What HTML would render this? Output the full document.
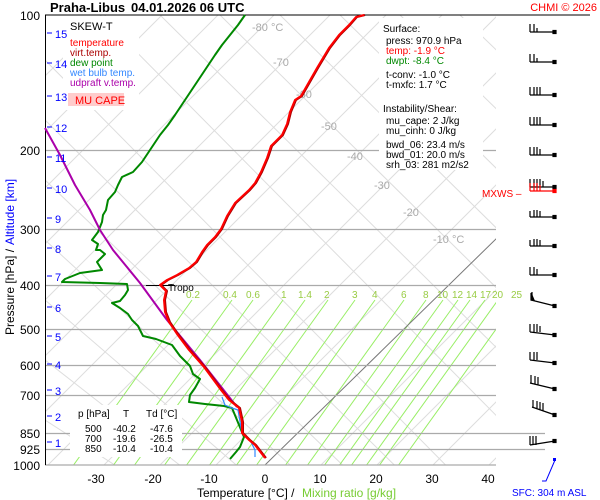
<!DOCTYPE html>
<html><head><style>
body{margin:0;background:#fff;}
svg{display:block;font-family:"Liberation Sans",sans-serif;}
</style></head><body>
<svg width="600" height="500" viewBox="0 0 600 500" xmlns="http://www.w3.org/2000/svg">
<rect width="600" height="500" fill="#fff"/>
<defs><clipPath id="pa"><rect x="45" y="15" width="451" height="450"/></clipPath></defs>
<g clip-path="url(#pa)" stroke-width="1" fill="none">
<g stroke="#ddd">
<path d="M-120 465 L345 0 M-64 465 L401 0 M-8 465 L457 0 M48 465 L513 0 M104 465 L569 0 M160 465 L625 0 M216 465 L681 0 M321 465 L786 0 M377 465 L842 0 M433 465 L898 0 M489 465 L954 0 M-176 465 L289 0 M-232 465 L233 0 M-288 465 L177 0 M-344 465 L121 0"/>
</g>
<g stroke="#ddd">
<path d="M45 60 L500 520 M45 120 L450 520 M45 180 L400 520 M45 240 L350 520 M45 300 L300 520 M45 360 L250 520 M45 420 L200 520 M100 15 L560 480 M160 15 L600 450 M220 15 L600 390 M280 15 L600 330 M340 15 L600 270 M400 15 L600 210 M460 15 L600 150"/>
</g>
<g stroke="#9e6">
<path d="M192 300 L70 470 M232 300 L110 470 M253 300 L131 470 M283 300 L161 470 M305 300 L183 470 M328 300 L206 470 M355 300 L233 470 M375 300 L253 470 M404 300 L282 470 M426 300 L304 470 M443 300 L321 470 M458 300 L336 470 M470 300 L348 470 M485 300 L363 470 M498 300 L376 470 M517 300 L395 470"/>
</g>
<path d="M265 465 L500 235" stroke="#777"/>
</g>
<g stroke="#aaa" stroke-width="1.2">
<path d="M45 150.5H496 M45 229.5H496 M45 285.5H496 M45 329.5H496 M45 365.5H496 M45 395.5H496 M45 433.5H545 M45 449.5H545 M45 465H496"/>
</g>
<path d="M45 15H590" stroke="#000"/>
<path d="M45.5 15V465" stroke="#000"/>
<g fill="#aaa" font-size="11">
<text x="252" y="31">-80 °C</text><text x="273" y="66">-70</text><text x="296" y="98">-60</text>
<text x="321" y="130">-50</text><text x="347" y="160">-40</text><text x="374" y="189">-30</text>
<text x="403" y="216">-20</text><text x="433" y="243">-10 °C</text>
</g>
<g fill="#9c4" font-size="10">
<text x="186" y="298">0.2</text><text x="223" y="298">0.4</text><text x="246" y="298">0.6</text><text x="281" y="298">1</text><text x="298" y="298">1.4</text><text x="324" y="298">2</text><text x="352" y="298">3</text><text x="372" y="298">4</text><text x="401" y="298">6</text><text x="423" y="298">8</text><text x="437" y="298">10</text><text x="452" y="298">12</text><text x="466" y="298">14</text><text x="480" y="298">17</text><text x="492" y="298">20</text><text x="511" y="298">25</text>
</g>
<path d="M146 285.5H175" stroke="#000"/>
<text x="168" y="291" font-size="10" fill="#000">Tropo</text>
<rect x="63" y="16" width="76" height="94" fill="#fff"/>
<g font-size="10">
<text x="70" y="30" font-size="11" fill="#000">SKEW-T</text>
<text x="70" y="46" fill="#f00">temperature</text>
<text x="70" y="56" fill="#a00">virt.temp.</text>
<text x="70" y="66" fill="#080">dew point</text>
<text x="70" y="76" fill="#38f">wet bulb temp.</text>
<text x="70" y="86" fill="#a0a">udpraft v.temp.</text>
</g>
<rect x="68" y="93" width="56" height="13" fill="#fcc"/>
<text x="75" y="104" font-size="11" fill="#f00">MU CAPE</text>
<rect x="379" y="18" width="104" height="152" fill="#fff"/>
<g font-size="10" fill="#000">
<text x="383" y="32">Surface:</text>
<text x="386" y="44">press: 970.9 hPa</text>
<text x="386" y="54" fill="#f00">temp: -1.9 °C</text>
<text x="386" y="64" fill="#080">dwpt: -8.4 °C</text>
<text x="386" y="78">t-conv: -1.0 °C</text>
<text x="386" y="88">t-mxfc: 1.7 °C</text>
<text x="383" y="112">Instability/Shear:</text>
<text x="386" y="124">mu_cape: 2 J/kg</text>
<text x="386" y="134">mu_cinh: 0 J/kg</text>
<text x="386" y="148">bwd_06: 23.4 m/s</text>
<text x="386" y="158">bwd_01: 20.0 m/s</text>
<text x="386" y="168">srh_03: 281 m2/s2</text>
</g>
<rect x="70" y="405" width="112" height="52" fill="#fff"/>
<g font-size="10" fill="#000">
<text x="78" y="417">p [hPa]</text><text x="123" y="417">T</text><text x="146" y="417">Td [°C]</text>
<text x="85" y="432">500</text><text x="113" y="432">-40.2</text><text x="150" y="432">-47.6</text>
<text x="85" y="442">700</text><text x="113" y="442">-19.6</text><text x="150" y="442">-26.5</text>
<text x="85" y="452">850</text><text x="113" y="452">-10.4</text><text x="150" y="452">-10.4</text>
</g>
<g fill="none" stroke-linejoin="round">
<polyline stroke="#080" stroke-width="2" points="245,15 238,25 230,35 222,45 215,55 205,70 195,85 185,100 175,115 168,125 160,135 150,150 142,162 133,172 122,177 118,185 115,192 108,200 106,210 103,215 102,222 98,232 92,240 98,244 96,250 100,250 105,254 97,262 102,270 80,273 65,279 62,282 100,283 127,284 128,290 125,295 120,301 112,303 120,308 128,314 132,320 138,326 143,336 156,339 172,345 180,356 190,366 193,374 200,379 195,388 190,395 189,402 205,404 224,406 232,408 244,437 240,447 236,452 230,459"/>
<polyline stroke="#38f" stroke-width="1.2" points="222,397 225,405 232,408 238,410 242,433 250,440 255,450 255,457"/>
<polyline stroke="#a0a" stroke-width="2" points="45,128 60,155 75,185 90,210 100,230 113,250 140,283 167,320 200,360 237,407"/>
<polyline stroke="#a00" stroke-width="2" points="266,458 256,445 250,440 243,433 243,422 240,408 230,400 222,390 205,367 190,350 178,334 170,322 166,312 165,300 167,291 161,285 168,280 178,275 190,268 197,262 203,252 208,245 216,237 222,229 228,216 236,203 250,190 256,183 262,172 268,158 272,146 283,135 288,124 291,112 296,100 302,96 310,82 318,68 330,48 340,35 350,25 357,17 365,15"/>
<polyline stroke="#f00" stroke-width="2" points="265,458 255,445 249,440 242,433 242,422 239,408 229,400 221,390 204,367 189,350 177,334 169,322 165,312 164,300 166,291 160,285 167,280 177,275 189,268 196,262 202,252 207,245 215,237 221,229 227,216 235,203 249,190 255,183 261,172 267,158 271,146 282,135 287,124 290,112 295,100 301,96 309,82 317,68 329,48 339,35 349,25 356,17 364,15"/>
</g>
<g font-size="12" fill="#000" text-anchor="end">
<text x="40" y="20">100</text><text x="40" y="155">200</text><text x="40" y="234">300</text><text x="40" y="290">400</text><text x="40" y="334">500</text><text x="40" y="370">600</text><text x="40" y="400">700</text><text x="40" y="438">850</text><text x="40" y="454">925</text><text x="40" y="470">1000</text>
</g>
<g font-size="11" fill="#00f">
<path d="M47 33h5M47 63h5M47 96h5M47 127h5M47 157h5M47 188h5M47 218h5M47 248h5M47 276h5M47 307h5M47 336h5M47 364h5M47 390h5M47 416h5M47 442h5" stroke="#00f"/>
<text x="55" y="38">15</text><text x="55" y="68">14</text><text x="55" y="101">13</text><text x="55" y="132">12</text><text x="55" y="162">11</text><text x="55" y="193">10</text><text x="55" y="223">9</text><text x="55" y="253">8</text><text x="55" y="281">7</text><text x="55" y="312">6</text><text x="55" y="341">5</text><text x="55" y="369">4</text><text x="55" y="395">3</text><text x="55" y="421">2</text><text x="55" y="447">1</text>
</g>
<g font-size="12" fill="#000" text-anchor="middle">
<text x="96" y="483">-30</text><text x="153" y="483">-20</text><text x="209" y="483">-10</text><text x="265" y="483">0</text><text x="320" y="483">10</text><text x="376" y="483">20</text><text x="432" y="483">30</text><text x="488" y="483">40</text>
</g>
<text x="197" y="497" font-size="12" fill="#000">Temperature [°C]  /</text>
<text x="302" y="497" font-size="12" fill="#7c3">Mixing ratio [g/kg]</text>
<text x="14" y="335" font-size="12" fill="#000" transform="rotate(-90 14 335)">Pressure [hPa]  /</text>
<text x="14" y="245" font-size="12" fill="#00f" transform="rotate(-90 14 245)">Altitude [km]</text>
<text x="50" y="12" font-size="13" font-weight="bold" fill="#000">Praha-Libus</text>
<text x="131" y="12" font-size="13" font-weight="bold" fill="#000">04.01.2026 06 UTC</text>
<text x="597" y="11" font-size="11" fill="#f00" text-anchor="end">CHMI © 2026</text>
<text x="512" y="496" font-size="10" fill="#00f">SFC: 304 m ASL</text>
<text x="482" y="197" font-size="10" fill="#f00">MXWS –</text>
<g stroke="#000" fill="#000" stroke-width="1.2">
<g transform="translate(0,32)"><path d="M530 0H555M530 0V-8M534 0V-8M537 0V-4"/><rect x="553" y="-1.5" width="3" height="3"/></g>
<g transform="translate(0,62)"><path d="M530 0H555M530 0V-8M534 0V-8M537 0V-4"/><rect x="553" y="-1.5" width="3" height="3"/></g>
<g transform="translate(0,95)"><path d="M530 0H555M530 0V-8M534 0V-8M537 0V-8M540 0V-8"/><rect x="553" y="-1.5" width="3" height="3"/></g>
<g transform="translate(0,125)"><path d="M530 0H555M530 0V-8M534 0V-8M537 0V-8M540 0V-8"/><rect x="553" y="-1.5" width="3" height="3"/></g>
<g transform="translate(0,155)"><path d="M530 0H555M530 0V-8M534 0V-8M537 0V-8M540 0V-6"/><rect x="553" y="-1.5" width="3" height="3"/></g>
<g transform="translate(0,187)"><path d="M530 0H555M530 0V-8M534 0V-8M537 0V-8M540 0V-8M543 0V-6"/><rect x="553" y="-1.5" width="3" height="3"/></g>
<g transform="translate(0,191)" stroke="#f00" fill="#f00"><path d="M530 0H555M530 0V-8M534 0V-8M537 0V-8M540 0V-6"/><rect x="553" y="-1.5" width="3" height="3"/></g>
<g transform="translate(0,217)"><path d="M530 0H555M530 0V-6M534 0V-7M537 0V-7M540 0V-6"/><rect x="553" y="-1.5" width="3" height="3"/></g>
<g transform="translate(0,246)"><path d="M530 0H555M530 0V-6M534 0V-7M537 0V-7M540 0V-6"/><rect x="553" y="-1.5" width="3" height="3"/></g>
<g transform="translate(0,275)"><path d="M530 0H555M530 0V-8M534 0V-8M537 0V-6"/><rect x="553" y="-1.5" width="3" height="3"/></g>
<g><path d="M531 300L555 306M532 300V292"/><polygon points="531,300 531,293 534,300"/><rect x="553" y="304.5" width="3" height="3"/></g>
<g><path d="M530 332L555 335M530 332V324M534 332V324M537 332V324M540 332V326"/><rect x="553" y="333.5" width="3" height="3"/></g>
<g><path d="M530 360L555 363M530 360V352M534 360V352M537 360V352"/><rect x="553" y="361.5" width="3" height="3"/></g>
<g><path d="M530 383L555 389M531 383V375M535 384V376M538 385V377"/><rect x="553" y="387.5" width="3" height="3"/></g>
<g><path d="M532 407L555 415M533 408V400M537 409V401M540 410V402M543 411V403"/><rect x="553" y="413.5" width="3" height="3"/></g>
<g><path d="M530 445L555 441M530 445V436M533 445V436M536 445V436"/><rect x="553" y="439.5" width="3" height="3"/></g>
</g>
<path d="M542 481L546 481L555 460" stroke="#00f" fill="none"/>
<rect x="553" y="458" width="3" height="3" fill="#00f"/>
</svg>
</body></html>
